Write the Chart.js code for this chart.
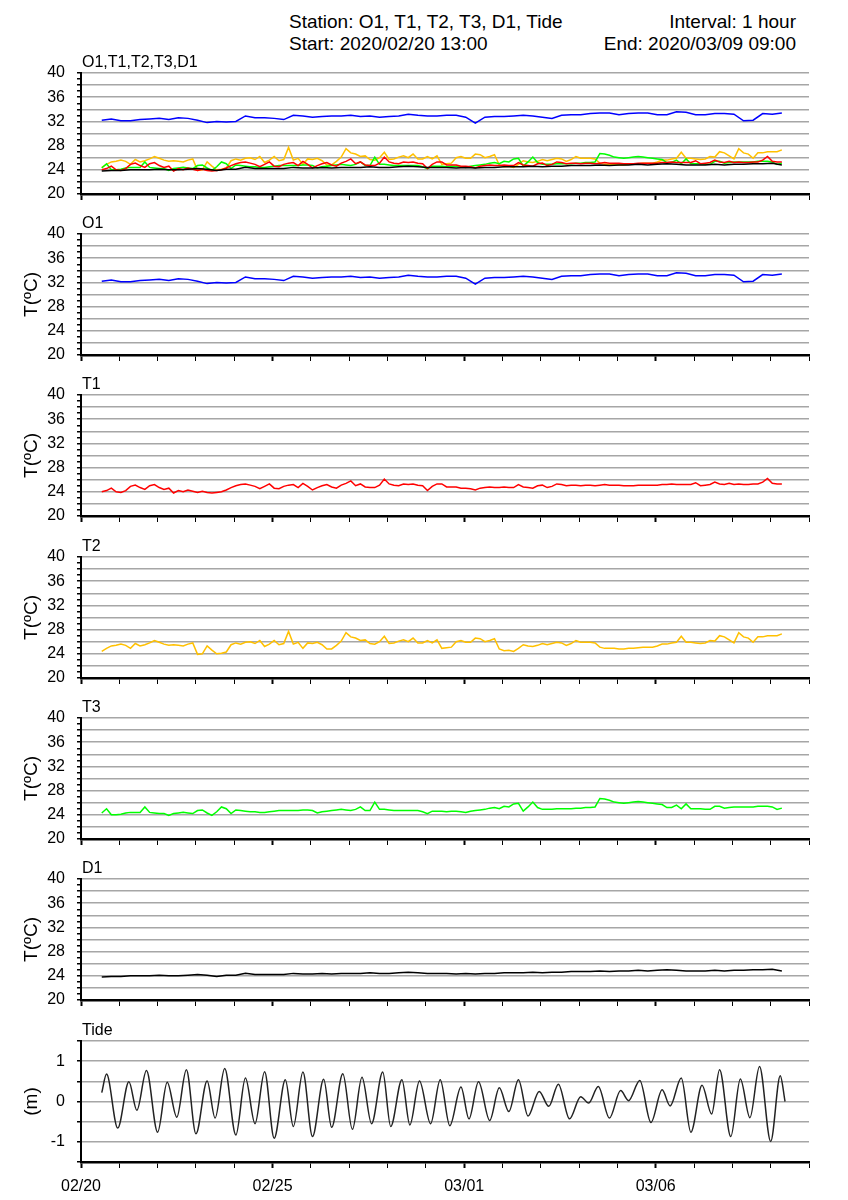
<!DOCTYPE html>
<html>
<head>
<meta charset="utf-8">
<script src="https://cdn.jsdelivr.net/npm/chart.js@4.4.1/dist/chart.umd.min.js"></script>
<style>
  body { margin: 0; background: #fff; overflow: hidden; }
  #page { position: relative; width: 848px; height: 1200px; font-family: "Liberation Sans", Arial, sans-serif; color: #000; }
  #page canvas { position: absolute; left: 0; }
  .txt { position: absolute; white-space: nowrap; z-index: 2; line-height: 1; }
  .head { font-size: 19px; }
  .ptitle { font-size: 16px; left: 82px; }
</style>
</head>
<body>
<div id="page">
  <div class="txt head" style="left:289px; top:12px;">Station: O1, T1, T2, T3, D1, Tide</div>
  <div class="txt head" style="left:289px; top:34px;">Start: 2020/02/20 13:00</div>
  <div class="txt head" style="right:52px; top:12px;">Interval: 1 hour</div>
  <div class="txt head" style="right:52px; top:34px;">End: 2020/03/09 09:00</div>
</div>
<script>
// time axis in hours since 02/20 00:00
const startHour = 13;
const xTickHours = [0, 120, 240, 360];
const xTickLabels = ['02/20', '02/25', '03/01', '03/06'];

// O1 and D1 read every 6 hours, T1/T2/T3 every 3 hours
const slowStep = 6;
const fastStep = 3;

const o1 = [32.2,32.4,32.1,32.1,32.3,32.4,32.5,32.3,32.6,32.5,
            32.2,31.8,32.0,31.9,32.0,32.9,32.6,32.6,32.5,32.3,
            33.0,32.9,32.7,32.8,32.9,32.9,33.0,32.8,32.9,32.7,
            32.8,32.9,33.2,33.0,32.9,32.9,33.0,33.0,32.7,31.7,
            32.7,32.8,32.8,32.9,33.0,32.9,32.7,32.5,33.0,33.1,
            33.1,33.3,33.4,33.4,33.1,33.3,33.4,33.4,33.1,33.1,
            33.6,33.5,33.1,33.1,33.3,33.3,33.2,32.1,32.2,33.3,
            33.2,33.4];

const d1 = [23.8,23.9,23.9,24.0,24.0,24.0,24.1,24.0,24.0,24.1,
            24.2,24.1,23.9,24.1,24.1,24.4,24.2,24.2,24.2,24.2,
            24.4,24.3,24.3,24.4,24.3,24.4,24.4,24.4,24.5,24.4,
            24.4,24.5,24.6,24.5,24.4,24.4,24.4,24.3,24.4,24.3,
            24.4,24.4,24.5,24.5,24.5,24.6,24.5,24.6,24.6,24.7,
            24.7,24.7,24.8,24.7,24.8,24.8,24.9,24.8,24.9,25.0,
            24.9,24.8,24.8,24.8,24.9,24.8,24.9,24.9,25.0,25.0,
            25.1,24.8];

const t1 = [24.0,24.2,24.6,24.0,23.9,24.2,24.9,25.1,24.7,24.4,
            25.0,25.2,24.7,24.4,24.6,23.8,24.2,24.0,24.3,24.1,
            23.9,24.1,23.9,23.8,23.9,24.0,24.3,24.7,25.0,25.2,
            25.3,25.1,24.9,24.5,24.9,25.3,24.6,24.5,24.9,25.1,
            25.2,24.7,25.4,24.9,24.3,24.7,25.0,25.2,24.8,24.6,
            25.1,25.4,25.8,25.0,25.3,24.8,24.7,24.7,25.1,26.1,
            25.3,25.1,25.0,25.3,25.2,25.3,25.1,25.0,24.2,24.9,
            25.3,25.3,24.8,24.8,24.8,24.6,24.6,24.5,24.3,24.6,
            24.7,24.8,24.7,24.7,24.8,24.7,24.7,25.2,24.8,24.7,
            24.6,25.0,25.1,24.7,24.9,25.3,25.2,25.0,25.1,25.1,
            25.0,25.1,25.1,25.0,25.1,25.2,25.1,25.1,25.1,25.0,
            25.0,25.0,25.1,25.1,25.1,25.1,25.1,25.2,25.2,25.3,
            25.2,25.2,25.2,25.2,25.5,25.0,25.1,25.2,25.6,25.3,
            25.2,25.4,25.2,25.3,25.2,25.2,25.3,25.3,25.6,26.2,
            25.4,25.3,25.3];

const t2 = [24.4,24.9,25.3,25.4,25.6,25.4,24.9,25.7,25.3,25.5,
            25.8,26.2,25.9,25.6,25.4,25.5,25.4,25.3,25.6,25.8,
            23.9,24.0,25.3,24.6,24.0,24.1,24.3,25.5,25.8,25.6,
            25.9,26.0,25.7,26.2,25.2,25.6,26.2,25.5,25.7,27.7,
            25.6,25.9,24.9,25.8,25.7,25.9,25.5,24.8,24.8,25.4,
            26.1,27.5,26.8,26.6,26.2,26.3,25.7,25.6,26.0,26.9,
            25.7,25.8,26.1,26.3,26.0,26.6,25.8,25.8,26.2,25.8,
            26.3,24.9,25.0,25.1,26.0,26.2,25.9,25.9,26.6,26.5,
            26.0,26.2,26.5,24.8,24.5,24.6,24.4,24.9,25.5,25.3,
            25.2,25.4,25.7,25.5,25.7,25.9,25.8,25.4,25.7,26.2,
            25.9,25.9,25.9,25.8,25.1,24.9,24.9,24.9,24.8,24.8,
            24.9,24.9,25.0,25.1,25.1,25.1,25.3,25.6,25.6,25.8,
            25.9,26.9,25.9,25.9,25.8,25.7,25.8,26.2,26.1,27.0,
            26.8,26.3,25.8,27.5,26.8,26.6,25.9,26.8,26.8,27.0,
            27.0,27.0,27.3];

const t3 = [24.3,25.0,24.0,24.0,24.1,24.3,24.4,24.4,24.4,25.3,
            24.4,24.3,24.2,24.2,23.9,24.2,24.3,24.4,24.3,24.2,
            24.7,24.8,24.3,23.9,24.5,25.3,25.0,24.2,24.8,24.7,
            24.6,24.5,24.5,24.4,24.4,24.5,24.6,24.7,24.7,24.7,
            24.7,24.7,24.8,24.8,24.7,24.3,24.5,24.6,24.7,24.8,
            24.9,24.8,24.7,24.9,25.3,24.7,24.7,26.1,24.9,24.9,
            24.8,24.7,24.7,24.7,24.7,24.7,24.7,24.5,24.2,24.6,
            24.6,24.6,24.5,24.6,24.6,24.5,24.4,24.6,24.7,24.8,
            24.9,25.1,25.2,25.0,25.4,25.3,25.8,25.9,24.6,25.3,
            26.1,25.2,24.9,24.9,24.9,25.0,25.0,25.0,25.0,25.1,
            25.1,25.2,25.2,25.3,26.7,26.6,26.4,26.1,26.0,25.9,
            26.0,26.1,26.2,26.1,26.0,25.9,25.8,25.7,25.2,25.2,
            25.6,25.0,25.8,25.0,25.0,25.0,24.9,24.9,25.4,25.4,
            25.1,25.2,25.3,25.3,25.3,25.3,25.3,25.4,25.4,25.4,
            25.3,24.9,25.1];

// tide highs and lows (hour, metres)
const tideHour = [13,16,23,30,35,41,48,54,60,66,72,79,84,90,97,103,109,115,121,128,
                  133,139,145,152,157,164,170,176,182,189,194,201,206,212,219,225,231,238,243,249,
                  256,262,268,274,280,287,293,299,306,313,318,324,331,338,343,350,357,364,369,376,
                  382,389,395,400,407,413,419,425,432,438,441];
const tideLevel = [0.22,0.68,-0.66,0.49,-0.22,0.77,-0.76,0.48,-0.39,0.79,
                   -0.80,0.51,-0.41,0.82,-0.83,0.58,-0.55,0.74,-0.91,0.54,
                   -0.62,0.73,-0.87,0.55,-0.64,0.69,-0.69,0.60,-0.55,0.73,
                   -0.62,0.54,-0.58,0.51,-0.55,0.54,-0.60,0.36,-0.43,0.49,
                   -0.47,0.34,-0.25,0.54,-0.36,0.25,-0.12,0.43,-0.43,0.12,
                   -0.04,0.37,-0.41,0.27,0.02,0.52,-0.52,0.29,-0.11,0.58,
                   -0.76,0.40,-0.31,0.79,-0.87,0.56,-0.40,0.87,-0.99,0.64,
                   0.00];

const colO1 = '#0000ff', colT1 = '#ff0000', colT2 = '#ffc000', colT3 = '#00ff00', colD1 = '#000000';

Chart.defaults.font.family = '"Liberation Sans", Arial, sans-serif';
Chart.defaults.color = '#000';

function pts(arr, step) {
  return arr.map((v, i) => ({ x: startHour + i * step, y: v }));
}

function line(arr, step, color) {
  return { data: pts(arr, step), borderColor: color, borderWidth: 1.5, pointRadius: 0, tension: 0 };
}

const page = document.getElementById('page');
const plotTop = [73, 234, 395, 557, 718, 879, 1041];
const plotH = 121;

function panel(n, title, yTitle, datasets, yAxis, lastOne) {
  const xh = lastOne ? 40 : 14;
  const c = document.createElement('canvas');
  c.width = 848;
  c.height = 12 + plotH + xh;
  c.style.top = (plotTop[n] - 12) + 'px';
  page.appendChild(c);

  const t = document.createElement('div');
  t.className = 'txt ptitle';
  t.style.top = (plotTop[n] - 19) + 'px';
  t.textContent = title;
  page.appendChild(t);

  new Chart(c.getContext('2d'), {
    type: 'line',
    data: { datasets: datasets },
    options: {
      responsive: false,
      animation: false,
      layout: { padding: { top: 12, right: 39, left: 0, bottom: 0 } },
      plugins: { legend: { display: false }, tooltip: { enabled: false } },
      scales: {
        x: {
          type: 'linear', min: 0, max: 456,
          afterFit: s => { s.height = xh; s.paddingLeft = 0; s.paddingRight = 0; },
          ticks: {
            stepSize: 24, autoSkip: false, maxRotation: 0, padding: 9,
            font: { size: 16 },
            callback: v => (lastOne && xTickHours.indexOf(v) >= 0) ? xTickLabels[xTickHours.indexOf(v)] : ''
          },
          grid: {
            drawOnChartArea: false, tickLength: 6, tickColor: '#000',
            tickWidth: ctx => (ctx.tick && ctx.tick.value % 120 === 0) ? 2 : 1
          },
          border: { color: '#000', width: 2.5 }
        },
        y: Object.assign({
          afterFit: s => { s.width = 81; s.paddingTop = 0; s.paddingBottom = 0; },
          border: { color: '#000', width: 2 },
          title: { display: !!yTitle, text: yTitle, font: { size: 19 }, padding: { top: 20, bottom: 0 } }
        }, yAxis)
      }
    }
  });
}

const tempAxis = {
  min: 20, max: 40,
  ticks: { stepSize: 1, autoSkip: false, padding: 12, font: { size: 16 },
           callback: v => v % 4 === 0 ? v : '' },
  grid: { color: ctx => (ctx.tick && ctx.tick.value % 2 === 0) ? '#a6a6a6' : 'rgba(0,0,0,0)',
          lineWidth: 1.5, tickLength: 4, tickColor: '#000' }
};

const tideAxis = {
  min: -1.5, max: 1.5,
  ticks: { stepSize: 0.5, autoSkip: false, padding: 12, font: { size: 16 },
           callback: v => Number.isInteger(v) ? v : '' },
  grid: { color: '#a6a6a6', lineWidth: 1.5, tickLength: 4, tickColor: '#000' }
};

panel(0, 'O1,T1,T2,T3,D1', '', [
  line(d1, slowStep, colD1),
  line(t1, fastStep, colT1),
  line(t3, fastStep, colT3),
  line(t2, fastStep, colT2),
  line(o1, slowStep, colO1)
], tempAxis, false);
panel(1, 'O1', 'T(ºC)', [line(o1, slowStep, colO1)], tempAxis, false);
panel(2, 'T1', 'T(ºC)', [line(t1, fastStep, colT1)], tempAxis, false);
panel(3, 'T2', 'T(ºC)', [line(t2, fastStep, colT2)], tempAxis, false);
panel(4, 'T3', 'T(ºC)', [line(t3, fastStep, colT3)], tempAxis, false);
panel(5, 'D1', 'T(ºC)', [line(d1, slowStep, colD1)], tempAxis, false);

const tide = {
  data: tideHour.map((h, i) => ({ x: h, y: tideLevel[i] })),
  borderColor: '#222', borderWidth: 1.5, pointRadius: 0,
  cubicInterpolationMode: 'monotone'
};
panel(6, 'Tide', '(m)', [tide], tideAxis, true);
</script>
</body>
</html>
